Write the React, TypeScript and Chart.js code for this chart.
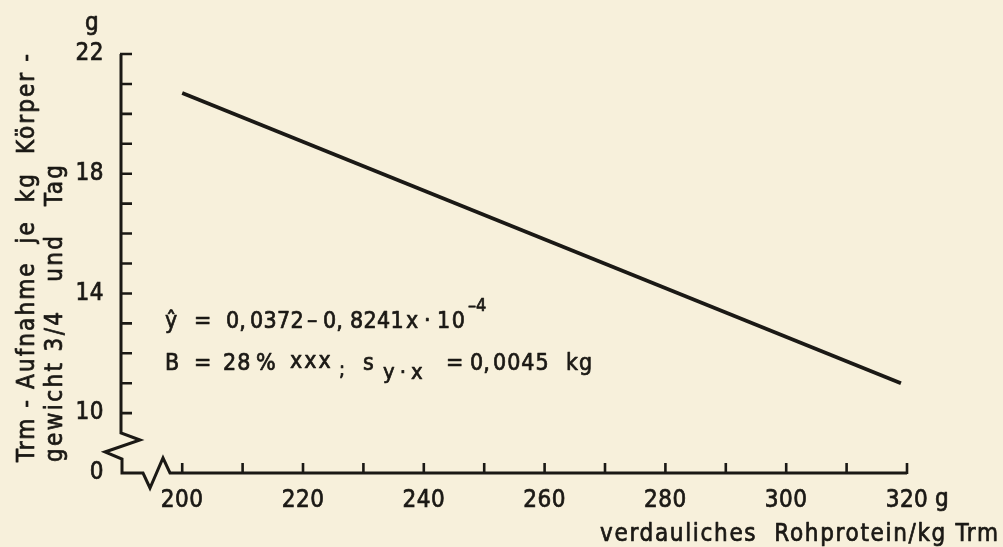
import { useEffect, useRef } from "react";
import { Chart, registerables } from "chart.js";

Chart.register(...registerables);

// Digestible crude protein per kg dry matter (g) on x,
// dry-matter intake per kg metabolic body weight and day (g) on y.
const proteinTicks = [200, 210, 220, 230, 240, 250, 260, 270, 280, 290, 300, 310, 320];
const proteinLabels = ["200", "", "220", "", "240", "", "260", "", "280", "", "300", "", "320"];
const intakeTicks = [10, 11, 12, 13, 14, 15, 16, 17, 18, 19, 20, 21, 22];
const intakeLabels = ["10", "", "", "", "14", "", "", "", "18", "", "", "", "22"];
// value at the foot of the broken y axis, labelled "0"
const brokenBase = 8;
const brokenBaseLabel = "0";

// fitted regression line
const regressionProtein = [200, 319];
const regressionIntake = [20.7, 11.0];

const yTitle = ["Trm - Aufnahme  je  kg  Körper -", "gewicht 3/4   und   Tag"];
const xTitle = "verdauliches  Rohprotein/kg Trm";
const unitLabel = "g";

const INK = "#1b1915";
const PAPER = "#f7f0db";
const FONT = '"DejaVu Sans Condensed", "DejaVu Sans"';
const SIZE = 24;
const EQ = 23;

type Piece = { t: string; x: number; size?: number; dy?: number; ls?: number };

function drawPieces(ctx: CanvasRenderingContext2D, parts: Piece[], y: number) {
  for (const p of parts) {
    ctx.font = `${p.size ?? EQ}px ${FONT}`;
    ctx.letterSpacing = `${p.ls ?? 0}px`;
    ctx.fillText(p.t, p.x, y + (p.dy ?? 0));
    ctx.strokeText(p.t, p.x, y + (p.dy ?? 0));
  }
  ctx.letterSpacing = "0px";
}

// draws text so that it spans the given length, spreading the letters
function drawSpread(ctx: CanvasRenderingContext2D, text: string, x: number, y: number, span: number) {
  ctx.letterSpacing = "0px";
  const w = ctx.measureText(text).width;
  const ls = Math.max(0, (span - w) / Math.max(1, text.length - 1));
  ctx.letterSpacing = `${ls}px`;
  ctx.fillText(text, x, y);
  ctx.strokeText(text, x, y);
  ctx.letterSpacing = "0px";
}

const paperPlugin = {
  id: "paper",
  beforeDraw(chart: any) {
    const { ctx, width, height } = chart;
    ctx.save();
    ctx.fillStyle = PAPER;
    ctx.fillRect(0, 0, width, height);
    ctx.restore();
    ctx.letterSpacing = "0.5px";
  },
  afterDraw(chart: any) {
    const { ctx, chartArea: a } = chart;
    const xs = chart.scales.x;
    const ys = chart.scales.y;
    const ax = a.left + 1;
    const base = ys.getPixelForValue(brokenBase);
    const top = ys.getPixelForValue(intakeTicks[intakeTicks.length - 1]);
    const right = xs.getPixelForValue(proteinTicks[proteinTicks.length - 1]);

    ctx.save();
    ctx.strokeStyle = INK;
    ctx.fillStyle = INK;
    ctx.lineJoin = "miter";
    ctx.lineCap = "butt";

    // axes with break marks
    ctx.lineWidth = 3;
    ctx.beginPath();
    ctx.moveTo(ax, top);
    ctx.lineTo(ax, base - 40);
    ctx.lineTo(ax + 19, base - 33);
    ctx.lineTo(ax - 16, base - 21);
    ctx.lineTo(ax + 1, base - 14);
    ctx.lineTo(ax + 1, base);
    ctx.lineTo(ax + 22, base);
    ctx.lineTo(ax + 29, base + 15);
    ctx.lineTo(ax + 42, base - 15);
    ctx.lineTo(ax + 49, base);
    ctx.lineTo(right, base);
    ctx.stroke();

    // inward tick marks
    ctx.lineWidth = 2.6;
    ctx.beginPath();
    for (const v of intakeTicks) {
      const py = ys.getPixelForValue(v);
      ctx.moveTo(ax - 1, py);
      ctx.lineTo(ax + 11, py);
    }
    for (const v of proteinTicks) {
      const px = xs.getPixelForValue(v);
      ctx.moveTo(px, base + 1);
      ctx.lineTo(px, base - 10);
    }
    ctx.stroke();

    ctx.lineWidth = 0.7;
    ctx.lineJoin = "round";
    ctx.textBaseline = "alphabetic";
    ctx.textAlign = "left";
    ctx.font = `${SIZE}px ${FONT}`;
    ctx.letterSpacing = "0.5px";

    // units
    ctx.textAlign = "center";
    ctx.fillText(unitLabel, 92, 30);
    ctx.strokeText(unitLabel, 92, 30);
    ctx.textAlign = "left";
    ctx.textBaseline = "middle";
    ctx.fillText(unitLabel, right + 28, base + 27);
    ctx.strokeText(unitLabel, right + 28, base + 27);
    ctx.textBaseline = "alphabetic";

    // axis titles
    drawSpread(ctx, xTitle, 600, 541, 398);
    ctx.save();
    ctx.translate(34, 462);
    ctx.rotate(-Math.PI / 2);
    drawSpread(ctx, yTitle[0], 0, 0, 408);
    drawSpread(ctx, yTitle[1], 0, 28, 297);
    ctx.restore();

    // regression statistics
    drawPieces(
      ctx,
      [
        { t: "ŷ", x: 165 },
        { t: "=", x: 194 },
        { t: "0,", x: 226 },
        { t: "0372", x: 250, ls: 0.3 },
        { t: "–", x: 307 },
        { t: "0,", x: 323 },
        { t: "8241", x: 350, ls: 0.3 },
        { t: "x", x: 406 },
        { t: "·", x: 424 },
        { t: "10", x: 437, ls: 1.5 },
        { t: "–4", x: 468, size: 18, dy: -17 },
      ],
      328
    );
    drawPieces(
      ctx,
      [
        { t: "B", x: 165 },
        { t: "=", x: 194 },
        { t: "28", x: 223, ls: 1 },
        { t: "%", x: 256 },
        { t: "xxx", x: 290, dy: -2, ls: 2 },
        { t: ";", x: 339, size: 20, dy: 6 },
        { t: "s", x: 363 },
        { t: "y·x", x: 383, size: 22, dy: 9, ls: 5 },
        { t: "=", x: 446 },
        { t: "0,", x: 470 },
        { t: "0045", x: 493, ls: 1 },
        { t: "kg", x: 566, ls: 1 },
      ],
      370
    );
    ctx.restore();
  },
};

export default function App() {
  const ref = useRef<HTMLCanvasElement | null>(null);

  useEffect(() => {
    if (!ref.current) return;
    const tickFont = { family: FONT, size: SIZE };
    const chart = new Chart(ref.current, {
      type: "line",
      data: {
        datasets: [
          {
            data: regressionProtein.map((x, i) => ({ x, y: regressionIntake[i] })),
            borderColor: INK,
            borderWidth: 3.8,
            borderCapStyle: "butt",
            pointRadius: 0,
            tension: 0,
          },
        ],
      },
      options: {
        animation: false,
        responsive: false,
        layout: { padding: { top: 54, right: 96, left: 0, bottom: 0 } },
        plugins: { legend: { display: false }, tooltip: { enabled: false } },
        scales: {
          x: {
            type: "linear",
            min: 189.7,
            max: 320,
            afterBuildTicks: (s: any) => {
              s.ticks = proteinTicks.map((value) => ({ value }));
            },
            afterFit: (s: any) => {
              s.height = 74;
            },
            grid: { display: false, drawTicks: false },
            border: { display: false },
            ticks: {
              font: tickFont,
              color: INK,
              textStrokeColor: INK,
              textStrokeWidth: 0.7,
              padding: 13,
              maxRotation: 0,
              autoSkip: false,
              callback: (v: any) => {
                const i = proteinTicks.indexOf(Number(v));
                return i >= 0 ? proteinLabels[i] : "";
              },
            },
          },
          y: {
            type: "linear",
            min: brokenBase,
            max: 22,
            afterBuildTicks: (s: any) => {
              s.ticks = [brokenBase, ...intakeTicks].map((value) => ({ value }));
            },
            afterFit: (s: any) => {
              s.width = 120;
            },
            grid: { display: false, drawTicks: false },
            border: { display: false },
            ticks: {
              font: tickFont,
              color: INK,
              textStrokeColor: INK,
              textStrokeWidth: 0.7,
              padding: 16,
              autoSkip: false,
              callback: (v: any) => {
                if (Number(v) === brokenBase) return brokenBaseLabel;
                const i = intakeTicks.indexOf(Number(v));
                return i >= 0 ? intakeLabels[i] : "";
              },
            },
          },
        },
      },
      plugins: [paperPlugin],
    } as any);
    return () => chart.destroy();
  }, []);

  return (
    <div style={{ position: "fixed", left: 0, top: 0, width: 1003, height: 547, background: PAPER }}>
      <canvas ref={ref} width={1003} height={547} style={{ display: "block" }} />
    </div>
  );
}
